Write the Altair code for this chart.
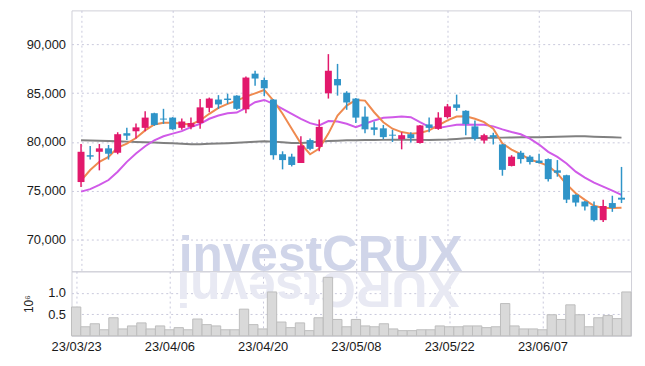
import altair as alt
import pandas as pd

dates = ["23/03/23", "23/03/24", "23/03/27", "23/03/28", "23/03/29", "23/03/30", "23/03/31",
         "23/04/03", "23/04/04", "23/04/05", "23/04/06", "23/04/07", "23/04/10", "23/04/11",
         "23/04/12", "23/04/13", "23/04/14", "23/04/17", "23/04/18", "23/04/19", "23/04/20",
         "23/04/21", "23/04/24", "23/04/25", "23/04/26", "23/04/27", "23/04/28", "23/05/02",
         "23/05/03", "23/05/04", "23/05/08", "23/05/09", "23/05/10", "23/05/11", "23/05/12",
         "23/05/15", "23/05/16", "23/05/17", "23/05/18", "23/05/19", "23/05/22", "23/05/23",
         "23/05/24", "23/05/25", "23/05/26", "23/05/30", "23/05/31", "23/06/01", "23/06/02",
         "23/06/05", "23/06/07", "23/06/08", "23/06/09", "23/06/12", "23/06/13", "23/06/14",
         "23/06/15", "23/06/16", "23/06/19", "23/06/20"]

opens = [75900, 78650, 79000, 79350, 78900, 80900, 81100, 81450, 82950, 82400,
         82500, 81450, 81550, 81950, 83500, 84350, 84450, 84750, 83350, 87000,
         86350, 84350, 78750, 78500, 77850, 80200, 79500, 85000, 86450, 85050,
         84450, 82600, 81500, 81400, 80750, 80300, 80800, 79900, 81800, 81350,
         82550, 83850, 83200, 81600, 80150, 80700, 79750, 77550, 78900, 78500,
         78100, 78250, 77100, 76600, 74600, 73900, 73450, 72000, 73750, 74300]
closes = [79000, 78500, 79350, 78800, 80800, 80650, 81500, 82500, 81750, 82300,
          81300, 82100, 81950, 83550, 84450, 83850, 84300, 83400, 86600, 86500,
          85500, 78650, 78150, 77650, 79650, 79300, 81550, 87300, 85800, 84050,
          82500, 81300, 81250, 80500, 80650, 80700, 80400, 81700, 81450, 82500,
          83650, 83500, 81850, 80350, 80700, 80500, 77150, 78500, 78250, 77950,
          77850, 76200, 76850, 74100, 73800, 73400, 72000, 73450, 73250, 74100]
highs = [79800, 79600, 79800, 79700, 81000, 81450, 81900, 83150, 83000, 83400,
         82550, 82400, 82500, 84400, 84550, 84800, 84950, 84800, 86700, 87300,
         86600, 84400, 79050, 78800, 80600, 80350, 82300, 89000, 88000, 85200,
         84500, 83650, 82100, 81750, 81250, 81000, 81000, 81750, 82500, 83050,
         83900, 84850, 83250, 82200, 80850, 80950, 79800, 78650, 79100, 78650,
         78800, 78300, 78150, 76650, 74650, 73950, 73900, 74100, 74500, 77450]
lows = [75400, 78200, 77100, 78200, 78750, 80200, 80350, 81100, 81650, 81850,
        81250, 81250, 81300, 81350, 83050, 83400, 83900, 83300, 82950, 85750,
        84700, 78200, 77200, 77500, 77850, 79150, 79050, 84450, 84750, 83300,
        81950, 80900, 80700, 80300, 80000, 79250, 79950, 79850, 81000, 81250,
        82400, 83200, 80700, 80150, 79850, 79750, 76550, 77500, 77800, 77700,
        77800, 75950, 76450, 73750, 73400, 73000, 71850, 71800, 72850, 73750]
volumes = [0.67, 0.21, 0.28, 0.14, 0.42, 0.16, 0.23, 0.30, 0.16, 0.23,
           0.14, 0.19, 0.14, 0.39, 0.26, 0.23, 0.14, 0.14, 0.62, 0.26,
           0.16, 1.02, 0.32, 0.19, 0.30, 0.12, 0.42, 1.36, 0.38, 0.21,
           0.38, 0.23, 0.21, 0.28, 0.16, 0.12, 0.12, 0.14, 0.14, 0.23,
           0.21, 0.21, 0.23, 0.23, 0.19, 0.21, 0.75, 0.23, 0.16, 0.16,
           0.14, 0.49, 0.38, 0.72, 0.49, 0.21, 0.42, 0.47, 0.40, 1.02]
ma5 = [76040, 77130, 77970, 78480, 79430, 79840, 80410, 81190, 81800, 81970,
       81970, 81870, 81800, 82210, 82890, 83500, 83900, 84240, 84650, 84980,
       85330, 84240, 82890, 81360, 79840, 78750, 79330, 80860, 82720, 83730,
       84310, 84240, 83050, 82030, 81360, 81020, 80860, 80920, 81190, 81700,
       82210, 82610, 82640, 82380, 82030, 81360, 79840, 79230, 78750, 78210,
       77910, 77560, 76790, 75670, 74760, 74080, 73470, 73240, 73240, 73270]
ma10 = [74920, 75170, 75600, 76110, 76960, 77970, 78820, 79570, 80180, 80590,
        80860, 81120, 81530, 81870, 82380, 82720, 82950, 83020, 83500, 84070,
        84310, 83900, 83400, 82890, 82380, 81930, 81700, 82140, 82100, 81870,
        81530, 81870, 82210, 82480, 82540, 82610, 82540, 82030, 81550, 81430,
        81600, 81770, 81800, 81770, 81770, 81600, 81290, 81020, 80790, 80350,
        79740, 78990, 78480, 77810, 76960, 76350, 75840, 75430, 75020, 74590]
ma_long = [80180, 80160, 80130, 80110, 80070, 80040, 80010, 79980, 79940, 79900,
           79880, 79830, 79770, 79780, 79820, 79840, 79880, 79920, 79970, 80020,
           80070, 80040, 79970, 79900, 79900, 79940, 80040, 80110, 80140, 80180,
           80180, 80200, 80210, 80220, 80230, 80230, 80230, 80220, 80210, 80230,
           80250, 80320, 80380, 80400, 80420, 80440, 80450, 80470, 80490, 80490,
           80490, 80520, 80550, 80570, 80590, 80580, 80550, 80520, 80490, 80450]

price_ticks = [70000, 75000, 80000, 85000, 90000]
date_tick_idx = [0, 10, 20, 30, 40, 50]
watermark = "investCRUX"

n = len(dates)
df = pd.DataFrame({
    "i": list(range(n)), "date": dates, "open": opens, "high": highs, "low": lows,
    "close": closes, "vol": volumes, "ma5": ma5, "ma10": ma10, "malong": ma_long,
})
df["dir"] = ["up" if c >= o else "down" for o, c in zip(opens, closes)]

label_js = "[" + ",".join("'%s'" % d for d in dates) + "][datum.value]"

W = 564
WM_FONT = "Liberation Sans"
xscale = alt.Scale(domain=[-0.5, n - 0.5], nice=False, zero=False)
yscale = alt.Scale(domain=[66760, 93480], nice=False, zero=False)

x_price = alt.X("i:Q", scale=xscale,
                axis=alt.Axis(values=date_tick_idx, labels=False, ticks=False,
                              domain=False, grid=True, title=None,
                              minExtent=0, maxExtent=0))
y_axis = alt.Axis(values=price_ticks, format=",.0f", title=None, ticks=False,
                  domain=False, labelPadding=6, grid=True)

color = alt.Color("dir:N", scale=alt.Scale(domain=["up", "down"],
                                           range=["#e2196c", "#2f94c8"]), legend=None)

base = alt.Chart(df)

wm = alt.Chart(pd.DataFrame({"t": [watermark]})).mark_text(
    font=WM_FONT, fontWeight="bold", fontSize=50,
    color="#d0d5e9", align="left", baseline="alphabetic"
).encode(text="t:N", x=alt.value(108), y=alt.value(263))

line_long = base.mark_line(color="#808080", strokeWidth=2).encode(
    x=x_price, y=alt.Y("malong:Q", scale=yscale, axis=y_axis))
line10 = base.mark_line(color="#d05ae8", strokeWidth=2).encode(
    x=x_price, y=alt.Y("ma10:Q", scale=yscale, axis=y_axis))
line5 = base.mark_line(color="#ef8a4f", strokeWidth=2).encode(
    x=x_price, y=alt.Y("ma5:Q", scale=yscale, axis=y_axis))
wicks = base.mark_rule(strokeWidth=1.5).encode(
    x=x_price, y=alt.Y("low:Q", scale=yscale, axis=y_axis), y2="high:Q", color=color)
bodies = base.mark_bar(size=7).encode(
    x=x_price, y=alt.Y("open:Q", scale=yscale, axis=y_axis), y2="close:Q", color=color)

price = alt.layer(wm, line_long, line10, line5, wicks, bodies).properties(width=W, height=263)

refl = alt.Chart(pd.DataFrame({"t": [watermark[::-1]]})).mark_text(
    font=WM_FONT, fontWeight="bold", fontSize=50,
    color="#e8e9f3", align="left", baseline="alphabetic", angle=180
).encode(text="t:N", x=alt.value(392), y=alt.value(1))

vol = base.transform_calculate(x0="datum.i - 0.5", x1="datum.i + 0.5").mark_bar(
    fill="#d9d9d9", stroke="#bdbdbd", strokeWidth=1
).encode(
    x=alt.X("x0:Q", scale=xscale,
            axis=alt.Axis(values=date_tick_idx, labelExpr=label_js, ticks=False,
                          domain=False, grid=True, title=None, labelPadding=5,
                          labelFontSize=13)),
    x2="x1:Q",
    y=alt.Y("vol:Q", scale=alt.Scale(domain=[0, 1.5], nice=False),
            axis=alt.Axis(values=[0.5, 1.0], format=".1f", title="10⁶", ticks=False,
                          domain=False, labelPadding=6, grid=True, titlePadding=12,
                          titleFontSize=12, titleFontWeight="normal", titleColor="#222")),
    y2=alt.datum(0),
)
volume = alt.layer(refl, vol).properties(width=W, height=65)

chart = alt.vconcat(price, volume, spacing=0, bounds="flush").properties(
    padding={"left": 14, "top": 0, "right": 5, "bottom": 5}
).configure_view(stroke="#cfcfd8").configure_axis(
    labelFont="Liberation Sans", labelFontSize=13, labelColor="#1a1a1a",
    titleFont="Liberation Sans", gridColor="#c8c8dc", gridDash=[2, 3], gridWidth=1,
)

chart.save("out.html", embed_options={"renderer": "svg", "actions": False})
